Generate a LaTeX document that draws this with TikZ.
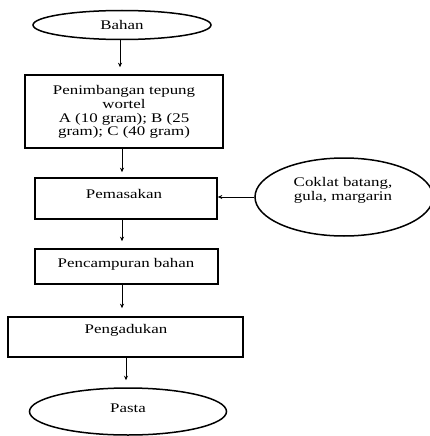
\documentclass[tikz,border=0pt]{standalone}
\usepackage{fontspec}
\setmainfont[FakeStretch=1.28]{Liberation Serif}
\usetikzlibrary{arrows.meta,shapes.geometric}
\begin{document}
\begin{tikzpicture}[x=1pt,y=-1pt,
  box/.style={draw,line width=1.6pt,rectangle,inner sep=0pt},
  oval/.style={draw,line width=1.5pt,ellipse,inner sep=0pt},
  txt/.style={font=\fontsize{13.2}{13.7}\selectfont,align=center,inner sep=0pt},
  arr/.style={-{Stealth[length=4.5pt,width=4pt]},line width=0.8pt}]
\useasboundingbox (0,0) rectangle (430,436);
% shapes
\node[oval,minimum width=178pt,minimum height=29pt] (bahan) at (122,25) {};
\node[txt] at (122,25) {Bahan};
\node[box,minimum width=198pt,minimum height=73pt] (timbang) at (124,111.5) {};
\node[txt] at (124,112) {Penimbangan tepung\\wortel\\A (10 gram); B (25\\gram); C (40 gram)};
\node[box,minimum width=182pt,minimum height=41pt] (masak) at (126,198.5) {};
\node[txt] at (124,194) {Pemasakan};
\node[oval,minimum width=178pt,minimum height=78pt] (coklat) at (344,197) {};
\node[txt] at (343,190) {Coklat batang,\\gula, margarin};
\node[box,minimum width=183pt,minimum height=35pt] (campur) at (126.5,266.5) {};
\node[txt] at (126,264) {Pencampuran bahan};
\node[box,minimum width=235pt,minimum height=40pt] (aduk) at (125.5,337) {};
\node[txt] at (126,330) {Pengadukan};
\node[oval,minimum width=197pt,minimum height=47pt] (pasta) at (128,411.5) {};
\node[txt] at (128,408) {Pasta};
% connectors
\draw[arr] (bahan.south -| 120,0) -- ([yshift=7pt]timbang.north -| 120,0);
\draw[arr] (timbang.south -| 122,0) -- ([yshift=5pt]masak.north -| 122,0);
\draw[arr] (coklat.west) -- (masak.east |- coklat.west);
\draw[arr] (masak.south -| 122,0) -- ([yshift=7pt]campur.north -| 122,0);
\draw[arr] (campur.south -| 122,0) -- ([yshift=8pt]aduk.north -| 122,0);
\draw[arr] (aduk.south -| 126,0) -- ([yshift=7pt]pasta.north -| 126,0);
\end{tikzpicture}
\end{document}
